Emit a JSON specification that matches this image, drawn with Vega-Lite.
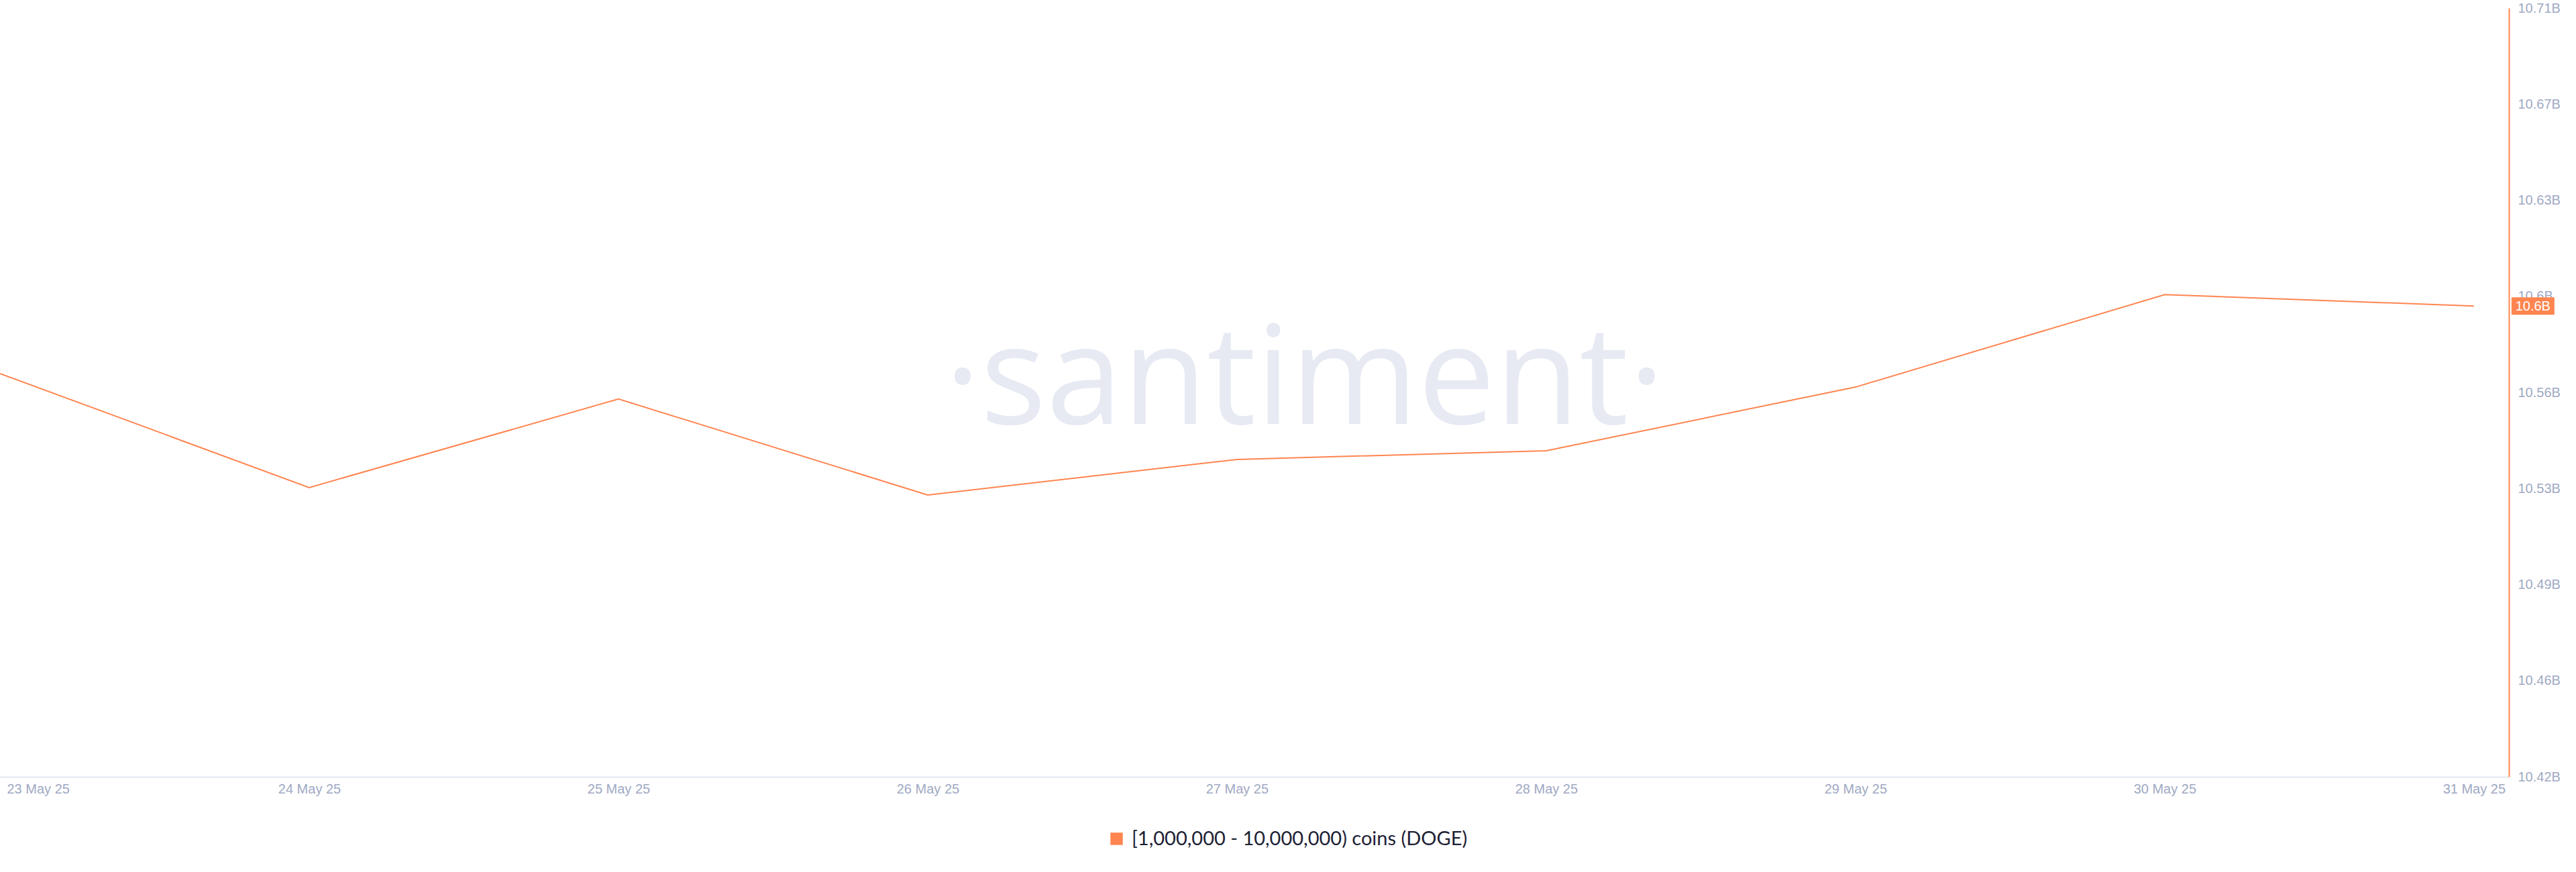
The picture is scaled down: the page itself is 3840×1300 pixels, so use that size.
{
  "$schema": "https://vega.github.io/schema/vega-lite/v6.json",
  "autosize": "none",
  "width": 3740,
  "height": 1146,
  "padding": {"left": 0, "top": 12, "right": 100, "bottom": 142},
  "background": "white",
  "config": {"view": {"stroke": null}},
  "datasets": {
    "main": [
      {"date": "2025-05-23T00:00:00", "value": 10572100000, "series": "[1,000,000 - 10,000,000) coins (DOGE)"},
      {"date": "2025-05-24T00:00:00", "value": 10529100000, "series": "[1,000,000 - 10,000,000) coins (DOGE)"},
      {"date": "2025-05-25T00:00:00", "value": 10562500000, "series": "[1,000,000 - 10,000,000) coins (DOGE)"},
      {"date": "2025-05-26T00:00:00", "value": 10526300000, "series": "[1,000,000 - 10,000,000) coins (DOGE)"},
      {"date": "2025-05-27T00:00:00", "value": 10539700000, "series": "[1,000,000 - 10,000,000) coins (DOGE)"},
      {"date": "2025-05-28T00:00:00", "value": 10543000000, "series": "[1,000,000 - 10,000,000) coins (DOGE)"},
      {"date": "2025-05-29T00:00:00", "value": 10567000000, "series": "[1,000,000 - 10,000,000) coins (DOGE)"},
      {"date": "2025-05-30T00:00:00", "value": 10601900000, "series": "[1,000,000 - 10,000,000) coins (DOGE)"},
      {"date": "2025-05-31T00:00:00", "value": 10597600000, "series": "[1,000,000 - 10,000,000) coins (DOGE)"}
    ],
    "latest": [
      {"date": "2025-05-31T00:00:00", "value": 10597600000, "label": "10.6B"}
    ],
    "watermark": [
      {"date": "2025-05-27T05:15:00", "value": 10553100000, "text": "·santiment·"}
    ]
  },
  "encoding": {
    "x": {
      "field": "date", "type": "temporal",
      "scale": {"domain": [{"year": 2025, "month": 5, "date": 23}, {"year": 2025, "month": 5, "date": 31, "hours": 2, "minutes": 43}]},
      "axis": {
        "title": null, "format": "%d %b %y", "tickCount": {"interval": "day", "step": 1},
        "grid": false, "ticks": false, "domainColor": "#e3e7f0", "domainWidth": 2,
        "labelFont": "Liberation Sans", "labelFontSize": 20, "labelColor": "#9fa9c3",
        "labelPadding": 8, "labelFlush": true, "labelFlushOffset": -10, "labelOverlap": false
      }
    },
    "y": {
      "field": "value", "type": "quantitative",
      "scale": {"domain": [10420000000, 10710000000], "zero": false, "nice": false},
      "axis": {
        "title": null, "orient": "right",
        "values": [10420000000, 10456250000, 10492500000, 10528750000, 10565000000, 10601250000, 10637500000, 10673750000, 10710000000],
        "labelExpr": "['10.42B','10.46B','10.49B','10.53B','10.56B','10.6B','10.63B','10.67B','10.71B'][round((datum.value-10420000000)/36250000)]",
        "grid": false, "ticks": false, "domainColor": "#ff8550", "domainWidth": 2,
        "labelFont": "Liberation Sans", "labelFontSize": 20, "labelColor": "#9fa9c3",
        "labelPadding": 13, "labelBaseline": "middle"
      }
    }
  },
  "layer": [
    {
      "data": {"name": "watermark"},
      "mark": {"type": "text", "font": "Open Sans", "fontSize": 205, "color": "#e7eaf3", "align": "center", "baseline": "alphabetic"},
      "encoding": {
        "text": {"field": "text"}
      }
    },
    {
      "data": {"name": "main"},
      "mark": {"type": "line", "strokeWidth": 2, "interpolate": "linear"},
      "encoding": {
        "color": {
          "field": "series", "type": "nominal",
          "scale": {"range": ["#ff8550"]},
          "legend": {
            "title": null, "orient": "none", "legendX": 1650, "legendY": 1224,
            "symbolType": "square", "symbolSize": 340, "symbolStrokeWidth": 0,
            "symbolFillColor": "#ff8550", "symbolOpacity": 1, "labelLimit": 0,
            "labelFont": "Lato", "labelFontSize": 29, "labelColor": "#1e2235", "labelOffset": 8
          }
        }
      }
    },
    {
      "data": {"name": "latest"},
      "mark": {"type": "point", "shape": "M-1,-0.406L1,-0.406L1,0.406L-1,0.406Z", "size": 4096, "filled": true, "color": "#ff8550", "opacity": 1, "xOffset": 88}
    },
    {
      "data": {"name": "latest"},
      "mark": {"type": "text", "font": "Liberation Sans", "fontSize": 20, "color": "white", "align": "center", "baseline": "middle", "dx": 88, "dy": 1},
      "encoding": {
        "text": {"field": "label"}
      }
    }
  ]
}
